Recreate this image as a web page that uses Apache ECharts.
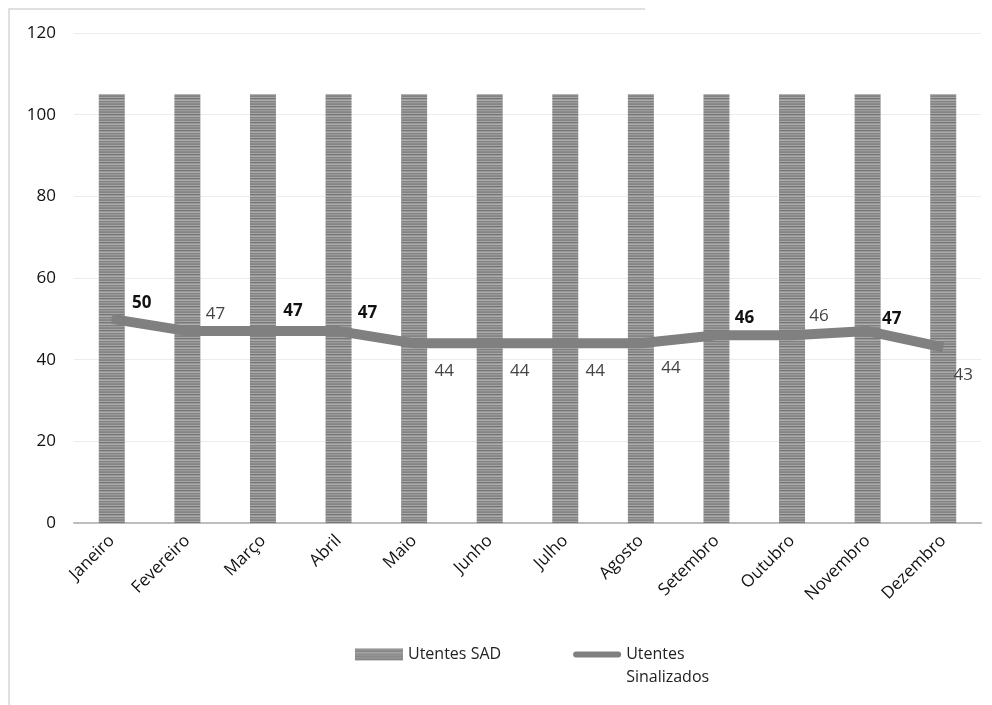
<!DOCTYPE html>
<html>
<head>
<meta charset="utf-8">
<script src="https://cdn.jsdelivr.net/npm/echarts@6/dist/echarts.min.js"></script>
<style>
  html, body { margin: 0; padding: 0; background: #fff; }
  #chart { width: 992px; height: 705px; }
</style>
</head>
<body>
<div id="chart"></div>
<script>
// Months on the category axis
const months = ['Janeiro', 'Fevereiro', 'Março', 'Abril', 'Maio', 'Junho',
  'Julho', 'Agosto', 'Setembro', 'Outubro', 'Novembro', 'Dezembro'];
// Bars: users of the home support service
const utentesSAD = [105, 105, 105, 105, 105, 105, 105, 105, 105, 105, 105, 105];
// Line: signalled users
const utentesSinalizados = [50, 47, 47, 47, 44, 44, 44, 44, 46, 46, 47, 43];
// Value axis ticks
const yTicks = [0, 20, 40, 60, 80, 100, 120];

// Horizontal-striped grey fill for the bars
function stripePattern() {
  const c = document.createElement('canvas');
  c.width = 8; c.height = 8;
  const g = c.getContext('2d');
  const rows = ['#858585', '#a4a4a4', '#787878', '#959595', '#afafaf', '#808080', '#9b9b9b', '#8b8b8b'];
  rows.forEach((col, i) => { g.fillStyle = col; g.fillRect(0, i, 8, 1); });
  return c;
}
const barFill = { image: stripePattern(), repeat: 'repeat' };

// Label placement for each point of the line
const labelLook = [
  { bold: true,  dx: 30, dy: -16 },
  { bold: false, dx: 28, dy: -17 },
  { bold: true,  dx: 30, dy: -20 },
  { bold: true,  dx: 29, dy: -18 },
  { bold: false, dx: 30, dy: 28 },
  { bold: false, dx: 30, dy: 28 },
  { bold: false, dx: 30, dy: 28 },
  { bold: false, dx: 30, dy: 25 },
  { bold: true,  dx: 28, dy: -17 },
  { bold: false, dx: 27, dy: -19 },
  { bold: true,  dx: 24, dy: -12 },
  { bold: false, dx: 20, dy: 28 }
];

const lineData = utentesSinalizados.map((v, i) => ({
  value: v,
  label: {
    offset: [labelLook[i].dx, labelLook[i].dy],
    fontWeight: labelLook[i].bold ? 'bold' : 'normal',
    color: labelLook[i].bold ? '#111' : '#444'
  }
}));

const font = '"Open Sans", "Noto Sans", sans-serif';
const chart = echarts.init(document.getElementById('chart'), null, { renderer: 'canvas' });
chart.setOption({
  animation: false,
  backgroundColor: '#fff',
  textStyle: { fontFamily: font },
  graphic: [{
    type: 'polyline',
    shape: { points: [[9, 705], [9, 9], [645, 9]] },
    style: { stroke: '#d6d6d6', lineWidth: 1.5, fill: null },
    silent: true
  }],
  grid: { left: 74, right: 11, top: 33, bottom: 182 },
  legend: {
    left: 350, top: 615,
    itemWidth: 48, itemHeight: 12, itemGap: 72,
    textStyle: { fontSize: 16, color: '#222', fontFamily: font, lineHeight: 23 },
    // a blank first line keeps the first text line level with the key icon
    formatter: name => name === 'Utentes SAD' ? ' \n' + name + '\n ' : ' \n' + name,
    data: [
      { name: 'Utentes SAD', icon: 'rect' },
      { name: 'Utentes\nSinalizados', icon: 'path://M3,0 L45,0 A3,3 0 0 1 45,6 L3,6 A3,3 0 0 1 3,0 Z',
        itemStyle: { color: '#808080' } }
    ]
  },
  xAxis: {
    type: 'category',
    data: months,
    axisLine: { lineStyle: { color: '#bdbdbd', width: 2 } },
    axisTick: { show: false },
    axisLabel: { rotate: 45, fontSize: 17, color: '#111', margin: 15 }
  },
  yAxis: {
    type: 'value',
    min: yTicks[0], max: yTicks[yTicks.length - 1], interval: 20,
    axisLine: { show: false },
    axisTick: { show: false },
    splitLine: { lineStyle: { color: '#ececec', width: 1 } },
    axisLabel: { fontSize: 17, color: '#111', margin: 18,
      formatter: v => yTicks.includes(v) ? String(v) : '' }
  },
  series: [
    {
      name: 'Utentes SAD',
      type: 'bar',
      data: utentesSAD,
      barWidth: 26,
      itemStyle: { color: barFill },
      z: 1
    },
    {
      name: 'Utentes\nSinalizados',
      type: 'line',
      data: lineData,
      symbol: 'circle',
      symbolSize: 1,
      showSymbol: true,
      lineStyle: { color: '#808080', width: 10 },
      itemStyle: { color: '#808080' },
      label: { show: true, position: 'inside', fontSize: 17, fontFamily: font },
      z: 3
    }
  ]
});
</script>
</body>
</html>
